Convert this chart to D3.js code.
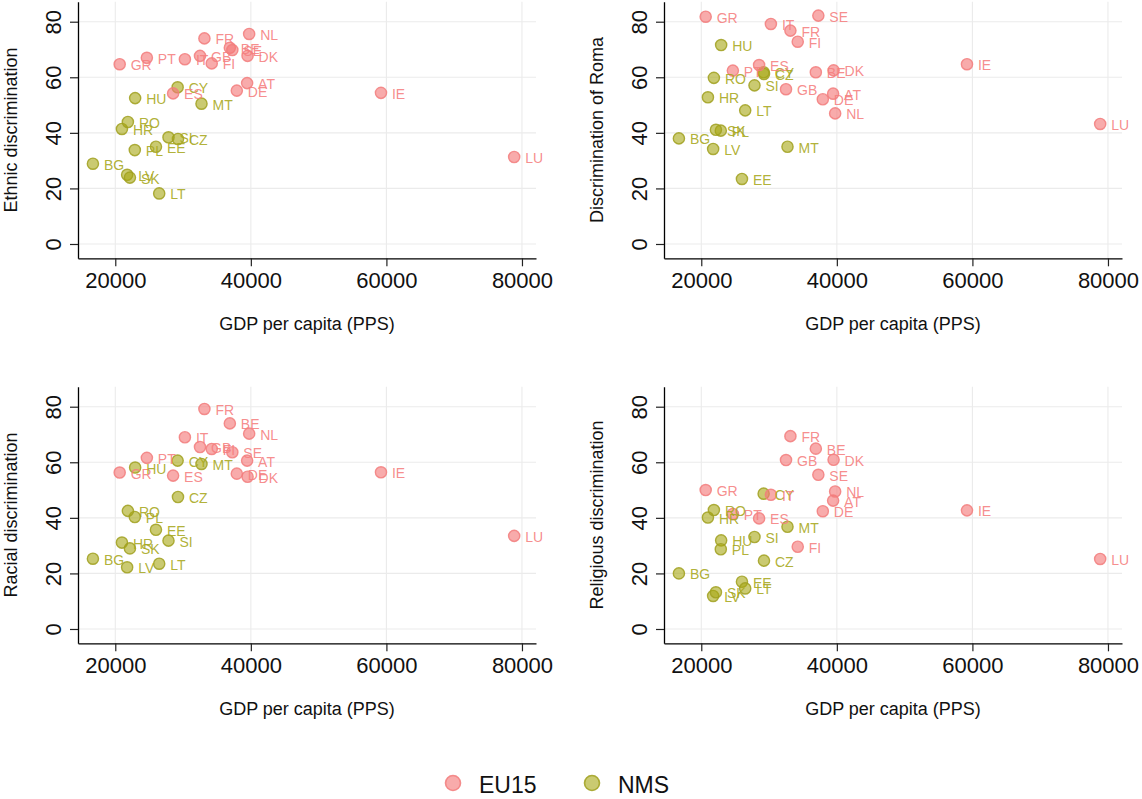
<!DOCTYPE html>
<html>
<head>
<meta charset="utf-8">
<script src="https://cdn.jsdelivr.net/npm/d3@7"></script>
<style>
  html, body { margin: 0; padding: 0; background: #fff; }
  svg { display: block; font-family: "Liberation Sans", Arial, sans-serif; }
</style>
</head>
<body>
<svg id="chart" width="1142" height="799"></svg>
<script>
// Country codes and membership group
const countries = ["AT","BE","BG","CY","CZ","DE","DK","EE","ES","FI","FR","GB","GR","HR",
                   "HU","IE","IT","LT","LU","LV","MT","NL","PL","PT","RO","SE","SI","SK"];
const groups    = ["EU15","EU15","NMS","NMS","NMS","EU15","EU15","NMS","EU15","EU15","EU15","EU15","EU15","NMS",
                   "NMS","EU15","EU15","NMS","EU15","NMS","NMS","EU15","NMS","EU15","NMS","EU15","NMS","NMS"];
// GDP per capita (PPS)
const gdp       = [39450,36900,16700,29200,29250,37930,39520,26000,28530,34230,33150,32500,20650,20980,
                   22930,59200,30270,26480,78850,21750,32720,39750,22880,24660,21860,37270,27850,22160];
// Perceived discrimination (%)
const ethnic    = [57.9,70.6,28.9,56.4,37.8,55.2,67.7,35.0,54.2,65.0,74.0,67.7,64.7,41.4,
                   52.5,54.4,66.5,18.2,31.3,24.9,50.5,75.6,33.8,67.0,43.9,69.8,38.4,23.9];
const roma      = [54.1,61.8,38.0,61.8,61.2,52.1,62.5,23.4,64.4,72.8,76.8,55.7,81.8,52.8,
                   71.6,64.7,79.2,48.1,43.2,34.2,35.0,47.0,40.8,62.4,59.8,82.2,57.1,41.1];
const racial    = [60.6,74.0,25.3,60.6,47.5,55.9,54.8,35.7,55.2,64.8,79.2,65.5,56.3,31.1,
                   58.1,56.4,69.0,23.5,33.5,22.2,59.4,70.3,40.3,61.6,42.5,63.6,31.8,29.0];
const religious = [46.2,64.9,20.0,48.7,24.6,42.4,60.9,17.0,39.8,29.6,69.4,60.8,50.0,40.1,
                   31.9,42.7,48.3,14.6,25.2,11.9,36.8,49.5,28.7,41.4,42.8,55.5,33.1,13.2];

const xTicks = [20000, 40000, 60000, 80000];
const yTicks = [0, 20, 40, 60, 80];
const groupNames = ["EU15", "NMS"];
const xTitle = "GDP per capita (PPS)";

const panels = [
  { title: "Ethnic discrimination",      values: ethnic,    left: 78,  top: 1.7 },
  { title: "Discrimination of Roma",     values: roma,      left: 664, top: 1.7 },
  { title: "Racial discrimination",      values: racial,    left: 78,  top: 386.7 },
  { title: "Religious discrimination",   values: religious, left: 664, top: 386.7 }
];
const panelW = 458, panelH = 256.6;

const pointFill   = { EU15: "rgba(244,120,120,0.62)", NMS: "rgba(166,166,18,0.6)" };
const pointStroke = { EU15: "rgba(242,125,125,0.85)", NMS: "rgba(160,160,30,0.85)" };
const labelColor  = { EU15: "#F57F7F", NMS: "#A8A820" };

const svg = d3.select("#chart");

panels.forEach(p => {
  const x = d3.scaleLinear().domain([14500, 82070]).range([p.left, p.left + panelW]);
  const y = d3.scaleLinear().domain([-5.15, 87.2]).range([p.top + panelH, p.top]);
  const g = svg.append("g");

  // grid
  g.selectAll(".vgrid").data(xTicks).join("line")
    .attr("x1", d => x(d)).attr("x2", d => x(d))
    .attr("y1", p.top).attr("y2", p.top + panelH)
    .attr("stroke", "#EBEBEB").attr("stroke-width", 1.1);
  g.selectAll(".hgrid").data(yTicks).join("line")
    .attr("x1", p.left).attr("x2", p.left + panelW)
    .attr("y1", d => y(d)).attr("y2", d => y(d))
    .attr("stroke", "#EBEBEB").attr("stroke-width", 1.1);

  // axes
  const xAxis = g.append("g")
    .attr("transform", `translate(0,${p.top + panelH})`)
    .call(d3.axisBottom(x).tickValues(xTicks).tickFormat(d3.format("d")).tickSize(8).tickSizeOuter(0).tickPadding(6));
  xAxis.select(".domain").attr("stroke", "#000").attr("stroke-width", 1.3);
  xAxis.selectAll(".tick line").attr("stroke", "#222").attr("stroke-width", 1.2);
  xAxis.selectAll(".tick text").attr("font-size", 22).attr("fill", "#111")
    .attr("font-family", "Liberation Sans, Arial, sans-serif");

  const yAxis = g.append("g")
    .attr("transform", `translate(${p.left},0)`)
    .call(d3.axisLeft(y).tickValues(yTicks).tickSize(8).tickSizeOuter(0));
  yAxis.select(".domain").attr("stroke", "#000").attr("stroke-width", 1.3);
  yAxis.selectAll(".tick line").attr("stroke", "#222").attr("stroke-width", 1.2);
  yAxis.selectAll(".tick text")
    .attr("x", null).attr("dy", null)
    .attr("transform", "translate(-17,0) rotate(-90)")
    .attr("text-anchor", "middle")
    .attr("font-size", 22).attr("fill", "#111")
    .attr("font-family", "Liberation Sans, Arial, sans-serif");

  // axis titles
  g.append("text")
    .attr("x", p.left + panelW / 2).attr("y", p.top + panelH + 72)
    .attr("text-anchor", "middle").attr("font-size", 18).attr("fill", "#111")
    .text(xTitle);
  g.append("text")
    .attr("transform", `translate(${p.left - 61},${p.top + panelH / 2}) rotate(-90)`)
    .attr("text-anchor", "middle").attr("font-size", 18).attr("fill", "#111")
    .text(p.title);

  // points
  const rows = countries.map((c, i) => ({ c, grp: groups[i], gdp: gdp[i], v: p.values[i] }));
  g.selectAll("circle.pt").data(rows).join("circle")
    .attr("cx", d => x(d.gdp)).attr("cy", d => y(d.v)).attr("r", 5.6)
    .attr("fill", d => pointFill[d.grp])
    .attr("stroke", d => pointStroke[d.grp]).attr("stroke-width", 1.4);

  // country labels
  g.selectAll("text.lbl").data(rows).join("text")
    .attr("x", d => x(d.gdp) + 11).attr("y", d => y(d.v) + 6)
    .attr("font-size", 14).attr("fill", d => labelColor[d.grp]).attr("fill-opacity", 0.9)
    .text(d => d.c);
});

// legend
const legendX = { EU15: 453, NMS: 592 };
const lg = svg.append("g");
groupNames.forEach(name => {
  lg.append("circle").attr("cx", legendX[name]).attr("cy", 783).attr("r", 7.5)
    .attr("fill", pointFill[name]).attr("stroke", pointStroke[name]).attr("stroke-width", 1.6);
  lg.append("text").attr("x", legendX[name] + 26).attr("y", 793)
    .attr("font-size", 23).attr("fill", "#111").text(name);
});
</script>
</body>
</html>
